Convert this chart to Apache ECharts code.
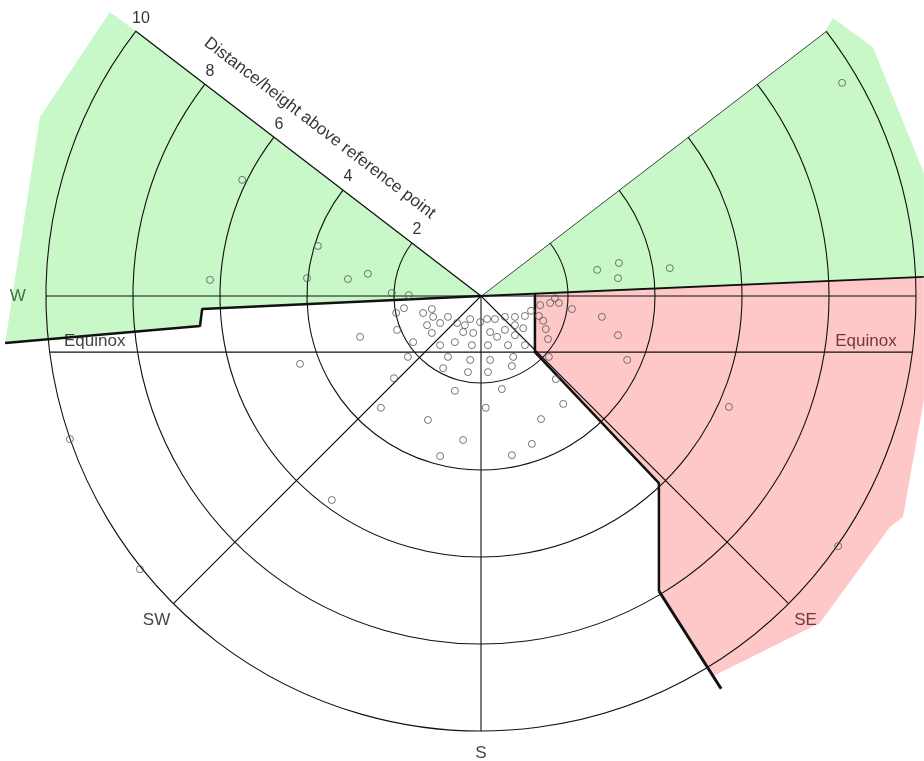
<!DOCTYPE html>
<html><head><meta charset="utf-8">
<script src="https://cdn.jsdelivr.net/npm/echarts@6/dist/echarts.min.js"></script>
<style>html,body{margin:0;padding:0;background:#fff}#c{width:924px;height:761px}</style>
</head><body><div id="c"></div>
<script>
// ---------------- data (units: distance/height above reference point) ----------------
const tickValues = [2, 4, 6, 8, 10];
const tickLabels = ['2', '4', '6', '8', '10'];
const axisTitle = 'Distance/height above reference point';
const compassNames = ['W', 'SW', 'S', 'SE'];
const compassAngles = [180, 225, 270, 315];
const rayAngles = [180, 225, 270, 315, 360, 397.5];
const sectorStart = 142.5;      // upper-left edge of the diagram (deg, CCW from east)
const sectorEnd = 397.5;        // upper-right edge (37.5 deg)
const equinoxY = -1.29;
const equinoxLabel = 'Equinox';

// shaded areas (x, y in units)
const leftGreenX = [0, -8.11, -8.53, -10.14, -10.94, -6.46, -6.41];
const leftGreenY = [0, 6.22, 6.53, 4.11, -1.08, -0.69, -0.30];
const rightGreenX = [0, 7.90, 8.09, 9.01, 10.18, 10.18];
const rightGreenY = [0, 6.06, 6.39, 5.72, 2.83, 0.44];
const pinkX = [1.24, 10.18, 10.18, 9.70, 9.40, 7.79, 5.33, 4.09, 4.09, 1.24];
const pinkY = [0.05, 0.44, -2.39, -5.08, -5.31, -7.52, -8.74, -6.78, -4.30, -1.29];

// thick boundary lines
const horizonLeftX = [-10.94, -6.46, -6.41, 0];
const horizonLeftY = [-1.08, -0.69, -0.30, 0];
const horizonRightX = [0, 10.18];
const horizonRightY = [0, 0.44];
const pinkEdgeX = [1.24, 1.24, 4.09, 4.09];
const pinkEdgeY = [0.05, -1.29, -4.30, -6.78];
const pinkTailX = [4.09, 5.52];
const pinkTailY = [-6.78, -9.03];

// observed points
const pointsX = [-1.77,-1.95,-1.33,-1.13,-1.10,-0.94,-0.76,-0.55,-1.24,-1.13,-1.93,-1.56,-0.94,-0.60,-0.25,-0.02,0.14,0.32,0.55,0.78,1.01,1.15,-0.37,-0.41,-0.18,0.21,0.37,0.55,0.78,0.97,0.78,-0.21,0.16,0.62,1.01,-0.76,-0.25,0.21,0.74,-1.68,-0.87,-0.30,0.16,0.71,-2.00,-0.60,0.48,-2.30,0.11,1.89,-1.22,1.38,-0.41,1.17,-0.94,0.71,-2.78,-4.16,-3.43,-7.84,-9.45,
  1.36,1.59,1.70,1.79,2.09,1.33,1.43,1.49,1.54,1.56,1.72,2.78,3.15,3.36,5.70,8.21,
  2.67,3.17,3.15,4.34,8.30,-5.49,-6.23,-3.75,-4.00,-3.06,-2.60,-2.05,-1.66];
const pointsY = [-0.28,-0.39,-0.39,-0.30,-0.48,-0.62,-0.48,-0.62,-0.67,-0.85,-0.78,-1.06,-1.13,-1.06,-0.53,-0.60,-0.53,-0.53,-0.48,-0.48,-0.46,-0.34,-0.67,-0.83,-0.85,-0.83,-0.94,-0.78,-0.67,-0.74,-0.90,-1.13,-1.13,-1.13,-1.13,-1.40,-1.47,-1.47,-1.40,-1.40,-1.66,-1.75,-1.75,-1.61,-1.89,-2.18,-2.14,-2.57,-2.57,-2.48,-2.85,-2.83,-3.31,-3.40,-3.68,-3.66,-0.94,-1.56,-4.69,-6.28,-3.29,
  -0.21,-0.16,-0.05,-0.16,-0.30,-0.46,-0.57,-0.76,-0.99,-1.40,-1.91,-0.48,-0.90,-1.47,-2.55,-5.75,
  0.60,0.76,0.41,0.64,4.90,2.67,0.37,1.15,0.41,0.39,0.51,0.07,0.02];

// ---------------- layout ----------------
const W = 924, H = 761;
const CX = 481, CY = 296, PX = 43.5;   // centre pixel and pixels per unit
const FONT = 'Liberation Sans, Arial, sans-serif';
const LINE = '#111';
const compassLabelR = {W: 10.65, SW: 10.55, S: 10.52, SE: 10.55};
const compassColor = {W: '#1f4f1f', SW: '#111', S: '#111', SE: '#4a1414'};

const chart = echarts.init(document.getElementById('c'), null, {renderer: 'canvas'});

function pairs(xs, ys) { return xs.map((x, i) => [x, ys[i]]); }

function polygonSeries(xs, ys, fill) {
  return {
    type: 'custom', coordinateSystem: 'cartesian2d', z: 1, silent: true, clip: false,
    data: pairs(xs, ys),
    renderItem: function (params, api) {
      if (params.dataIndex !== 0) return null;
      const pts = xs.map((x, i) => api.coord([x, ys[i]]));
      return {type: 'polygon', shape: {points: pts}, style: {fill: fill, stroke: null}};
    }
  };
}
function thickLine(xs, ys, w) {
  return {type: 'line', coordinateSystem: 'cartesian2d', data: pairs(xs, ys), symbol: 'none',
    z: 4, silent: true, clip: false, lineStyle: {color: '#111', width: w}};
}

const eqX = Math.sqrt(100 - equinoxY * equinoxY);
const RAD = Math.PI / 180;

const series = [
  polygonSeries(leftGreenX, leftGreenY, '#c8f7c8'),
  polygonSeries(rightGreenX, rightGreenY, '#c8f7c8'),
  polygonSeries(pinkX, pinkY, '#ffc8c8'),
  // radial lines
  ...rayAngles.map(a => ({
    type: 'line', coordinateSystem: 'polar', data: [[0, a], [10, a]], symbol: 'none',
    z: 3, silent: true, lineStyle: {color: LINE, width: 1.1}
  })),
  // equinox chord
  {type: 'line', coordinateSystem: 'cartesian2d', data: [[-eqX, equinoxY], [eqX, equinoxY]], symbol: 'none',
    z: 3, silent: true, lineStyle: {color: LINE, width: 1.1}},
  thickLine(horizonLeftX, horizonLeftY, 2.5),
  thickLine(horizonRightX, horizonRightY, 1.8),
  thickLine(pinkEdgeX, pinkEdgeY, 2.5),
  thickLine(pinkTailX, pinkTailY, 3),
  // observed points
  {type: 'scatter', coordinateSystem: 'cartesian2d', data: pairs(pointsX, pointsY), symbol: 'circle',
    symbolSize: 7, z: 5, silent: true,
    itemStyle: {color: 'rgba(0,0,0,0)', borderColor: '#555', borderWidth: 1}},
  // tick labels along upper-left edge
  {type: 'scatter', coordinateSystem: 'polar', symbolSize: 1, z: 6, silent: true,
    itemStyle: {color: 'rgba(0,0,0,0)'},
    data: tickValues.map((v, i) => ({name: tickLabels[i], value: [v, sectorStart]})),
    label: {show: true, position: 'inside', offset: [5, -13], formatter: '{b}',
      fontFamily: FONT, fontSize: 16, color: '#000'}},
  // axis title
  {type: 'scatter', coordinateSystem: 'polar', symbolSize: 1, z: 6, silent: true,
    itemStyle: {color: 'rgba(0,0,0,0)'},
    data: [{name: axisTitle, value: [5.35, 133.85]}],
    label: {show: true, position: 'inside', rotate: -37.5, formatter: '{b}',
      fontFamily: FONT, fontSize: 17, color: '#000'}},
  // compass labels (placed just outside the outer ring)
  {type: 'scatter', coordinateSystem: 'cartesian2d', symbolSize: 1, z: 6, silent: true,
    itemStyle: {color: 'rgba(0,0,0,0)'},
    data: compassAngles.map((a, i) => {
      const n = compassNames[i], r = compassLabelR[n];
      return {name: n, value: [r * Math.cos(a * RAD), r * Math.sin(a * RAD)], label: {color: compassColor[n]}};
    }),
    label: {show: true, position: 'inside', formatter: '{b}', fontFamily: FONT, fontSize: 17}},
  // equinox labels
  {type: 'scatter', coordinateSystem: 'cartesian2d', symbolSize: 1, z: 6, silent: true,
    itemStyle: {color: 'rgba(0,0,0,0)'},
    data: [
      {name: equinoxLabel, value: [-8.88, equinoxY], label: {color: '#111'}},
      {name: equinoxLabel, value: [8.85, equinoxY], label: {color: '#4a1414'}}
    ],
    label: {show: true, position: 'top', distance: 2, formatter: '{b}', fontFamily: FONT, fontSize: 17}}
];

chart.setOption({
  animation: false,
  backgroundColor: '#fff',
  grid: {left: 0, top: 0, right: 0, bottom: 0, containLabel: false},
  xAxis: {type: 'value', min: -CX / PX, max: (W - CX) / PX, show: false},
  yAxis: {type: 'value', min: -(H - CY) / PX, max: CY / PX, show: false},
  polar: {center: [CX, CY], radius: 10 * PX},
  angleAxis: {type: 'value', min: sectorStart, max: sectorEnd, startAngle: sectorStart, endAngle: sectorEnd,
    clockwise: false, z: 3,
    axisLine: {show: false}, axisTick: {show: false}, axisLabel: {show: false}, splitLine: {show: false}},
  radiusAxis: {type: 'value', min: 0, max: 10, interval: 2, z: 3,
    axisLine: {show: true, lineStyle: {color: LINE, width: 1.3}},
    axisTick: {show: false}, axisLabel: {show: false},
    splitLine: {show: true, lineStyle: {color: LINE, width: 1.1}}},
  series: series
});
</script></body></html>
